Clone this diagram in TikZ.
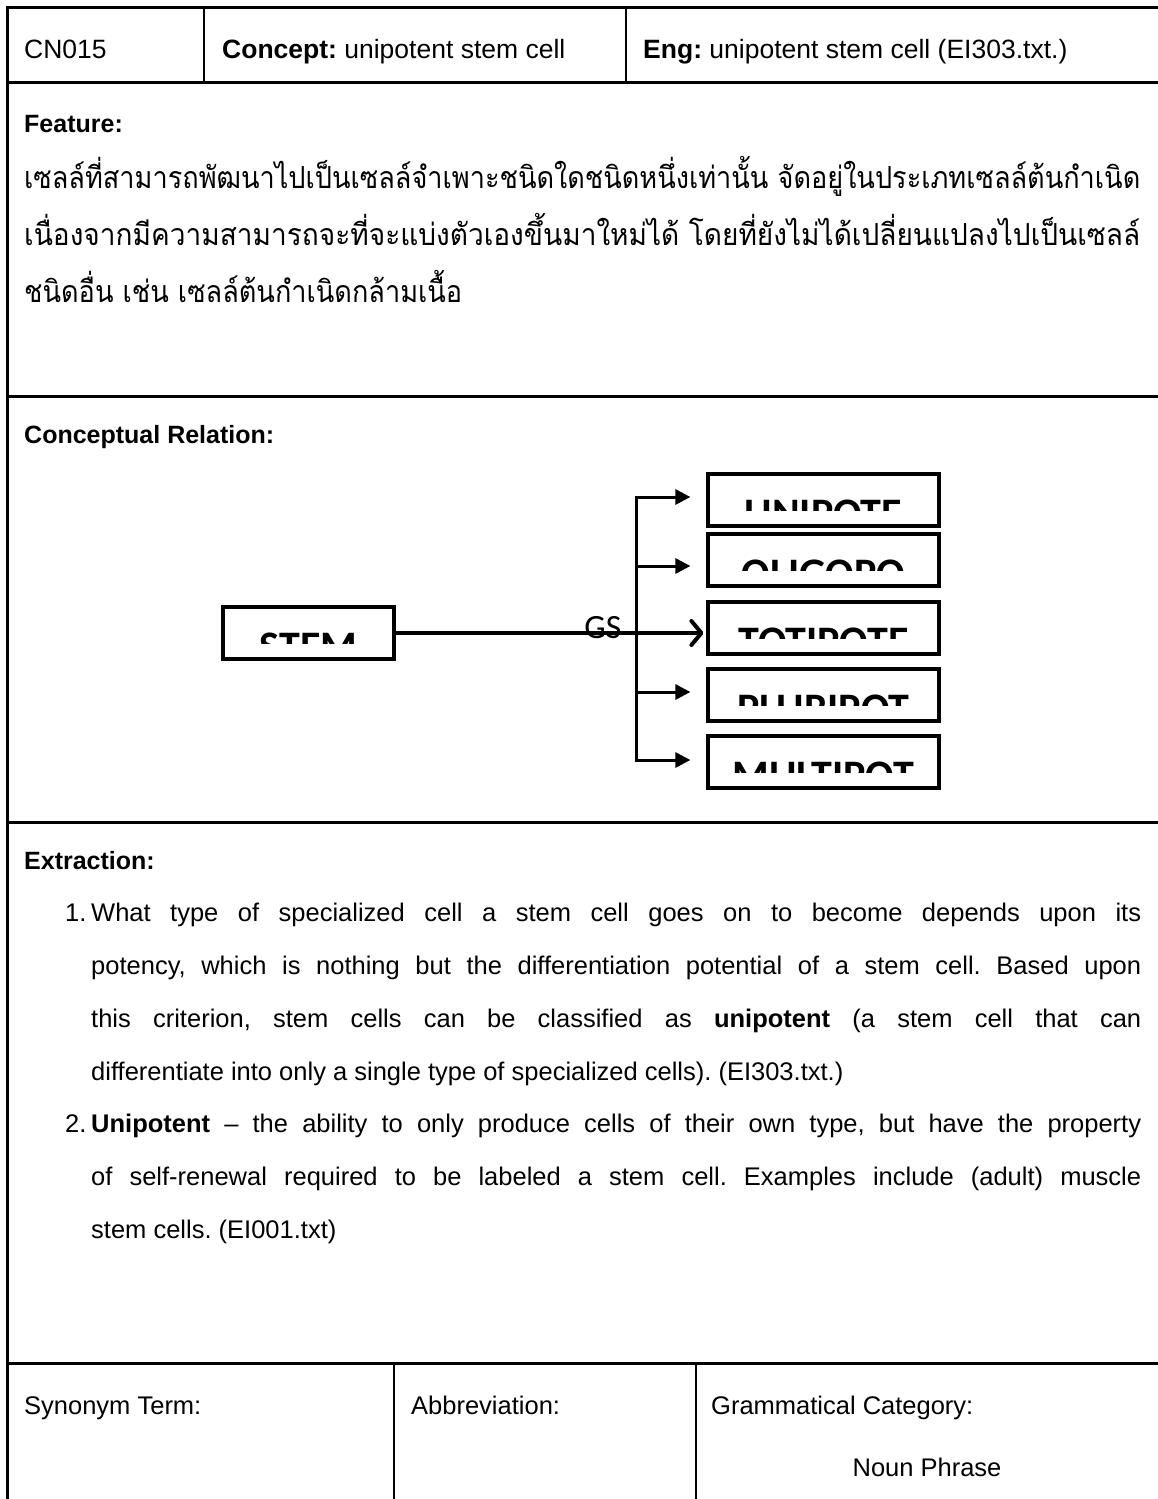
\documentclass[tikz,border=0pt]{standalone}
\usepackage{fontspec}
\setmainfont{Liberation Sans}
\newfontfamily\thaifont[Script=Thai]{Loma}
\newfontfamily\boxfont{Carlito}
\usetikzlibrary{arrows.meta}
\frenchspacing

\newlength\thaiw
\newlength\thaiwtwo
\newcommand\thaisize{\thaifont\fontsize{24pt}{24pt}\selectfont}
\newcommand\thaione{เซลล์ที่สามารถพัฒนาไปเป็นเซลล์จำเพาะชนิดใดชนิดหนึ่งเท่านั้น จัดอยู่ในประเภทเซลล์ต้นกำเนิด}
\newcommand\thaitwo{เนื่องจากมีความสามารถจะที่จะแบ่งตัวเองขึ้นมาใหม่ได้ โดยที่ยังไม่ได้เปลี่ยนแปลงไปเป็นเซลล์}
\newcommand\thaithree{ชนิดอื่น เช่น เซลล์ต้นกำเนิดกล้ามเนื้อ}

% clipped caption inside a concept box: only the upper part of the word shows
\newcommand\cliplabel[2]{%
  \begin{scope}
    \clip ([yshift=-2pt]#1.north west) rectangle ([yshift=-38pt]#1.north east);
    \node[boxtext] (#1-t) at ([yshift=-55pt]#1.north) {#2};
  \end{scope}}

\begin{document}
\settowidth\thaiw{\thaisize\thaione}
\settowidth\thaiwtwo{\thaisize\thaitwo}
\begin{tikzpicture}[x=1pt,y=-1pt,
  txt/.style={anchor=base west, inner sep=0pt, font=\fontsize{25.5pt}{30pt}\selectfont},
  hdr/.style={anchor=base west, inner sep=0pt, font=\fontsize{26.5pt}{30pt}\selectfont},
  lbl/.style={txt, font=\bfseries\fontsize{25pt}{30pt}\selectfont},
  thai/.style={anchor=base west, inner sep=0pt},
  rule/.style={line width=3pt},
  divider/.style={line width=1.8pt},
  cbox/.style={draw, line width=3.2pt, minimum width=231pt, minimum height=52pt, inner sep=0pt},
  boxtext/.style={font=\boxfont\bfseries\fontsize{42pt}{42pt}\selectfont, anchor=base, inner sep=0pt},
  branch/.style={line width=3pt, line join=miter, {Triangle[length=15pt,width=15pt]}-{Triangle[length=15pt,width=15pt]}, shorten <=16pt, shorten >=16pt},
  twig/.style={line width=3pt, -{Triangle[length=15pt,width=15pt]}, shorten >=16pt},
  mainline/.style={line width=3.2pt, line cap=butt, -{Straight Barb[length=10pt,width=24pt,line width=4pt 0,round]}}]

\useasboundingbox (0,0) rectangle (1157,1499);
\fill[white] (0,0) rectangle (1157,1499);

% ---- table frame and rules
\draw[rule] (7,1502) -- (7,7) -- (1162,7);
\draw[rule] (7,82) -- (1162,82);
\draw[rule] (7,396) -- (1162,396);
\draw[rule] (7,822) -- (1162,822);
\draw[rule] (7,1363) -- (1162,1363);
\draw[divider] (204,7) -- (204,82);
\draw[divider] (626,7) -- (626,82);
\draw[divider] (394,1363) -- (394,1502);
\draw[divider] (696,1363) -- (696,1502);

% ---- header row
\node[hdr] (id) at (24,58) {CN015};
\node[hdr] (concept) at (222,58) {\textbf{Concept:} unipotent stem cell};
\node[hdr] (eng) at (643,58) {\textbf{Eng:} unipotent stem cell (EI303.txt.)};

% ---- feature
\node[lbl] (feat) at (24,132) {Feature:};
\pgfmathsetmacro\thaiscale{1116/\thaiw}
\pgfmathsetmacro\thaiscaletwo{1116/\thaiwtwo}
\pgfmathsetmacro\thaiy{1.12*\thaiscale}
\node[thai] (th1) at (24,188) {\scalebox{\thaiscale}[\thaiy]{\thaisize\thaione}};
\node[thai] (th2) at (24,245) {\scalebox{\thaiscaletwo}[\thaiy]{\thaisize\thaitwo}};
\node[thai] (th3) at (24,302) {\scalebox{\thaiscale}[\thaiy]{\thaisize\thaithree}};

% ---- conceptual relation
\node[lbl] (rel) at (24,443) {Conceptual Relation:};

\node[cbox, minimum width=171pt] (stem) at (308.5,633) {};
\node[cbox] (uni) at (823.5,500) {};
\node[cbox] (oli) at (823.5,560) {};
\node[cbox] (toti) at (823.5,628) {};
\node[cbox] (pluri) at (823.5,695) {};
\node[cbox] (multi) at (823.5,762) {};

\cliplabel{stem}{STEM}
\cliplabel{uni}{UNIPOTE}
\cliplabel{oli}{OLIGOPO}
\cliplabel{toti}{TOTIPOTE}
\cliplabel{pluri}{PLURIPOT}
\cliplabel{multi}{MULTIPOT}

\coordinate (b1) at (636,497);
\coordinate (b2) at (636,566);
\coordinate (b4) at (636,692);
\coordinate (b5) at (636,760);

\draw[branch] (b1 -| uni.west) -- (b1) -- (b5) -- (b5 -| multi.west);
\draw[twig] (b2) -- (b2 -| oli.west);
\draw[twig] (b4) -- (b4 -| pluri.west);
\draw[mainline] (stem.east) -- ([xshift=-3pt]stem.east -| toti.west);
\node[anchor=base, inner sep=0pt, font=\boxfont\fontsize{34pt}{34pt}\selectfont] (gs) at (603,638) {GS};

% ---- extraction
\node[lbl] (ext) at (24,869) {Extraction:};
\node[txt] (n1) at (65,921) {1.};
\node[txt] (e1a) at (91,921) {\makebox[1050pt][s]{What type of specialized cell a stem cell goes on to become depends upon its}};
\node[txt] (e1b) at (91,974) {\makebox[1050pt][s]{potency, which is nothing but the differentiation potential of a stem cell. Based upon}};
\node[txt] (e1c) at (91,1027) {\makebox[1050pt][s]{this criterion, stem cells can be classified as \textbf{unipotent} (a stem cell that can}};
\node[txt] (e1d) at (91,1080) {differentiate into only a single type of specialized cells). (EI303.txt.)};
\node[txt] (n2) at (65,1132) {2.};
\node[txt] (e2a) at (91,1132) {\makebox[1050pt][s]{\textbf{Unipotent} -- the ability to only produce cells of their own type, but have the property}};
\node[txt] (e2b) at (91,1185) {\makebox[1050pt][s]{of self-renewal required to be labeled a stem cell. Examples include (adult) muscle}};
\node[txt] (e2c) at (91,1238) {stem cells. (EI001.txt)};

% ---- bottom row
\node[txt] (syn) at (24,1414) {Synonym Term:};
\node[txt] (abbr) at (411,1414) {Abbreviation:};
\node[txt] (gram) at (711,1414) {Grammatical Category:};
\node[txt, anchor=base] (np) at (927,1476) {Noun Phrase};
\end{tikzpicture}
\end{document}
